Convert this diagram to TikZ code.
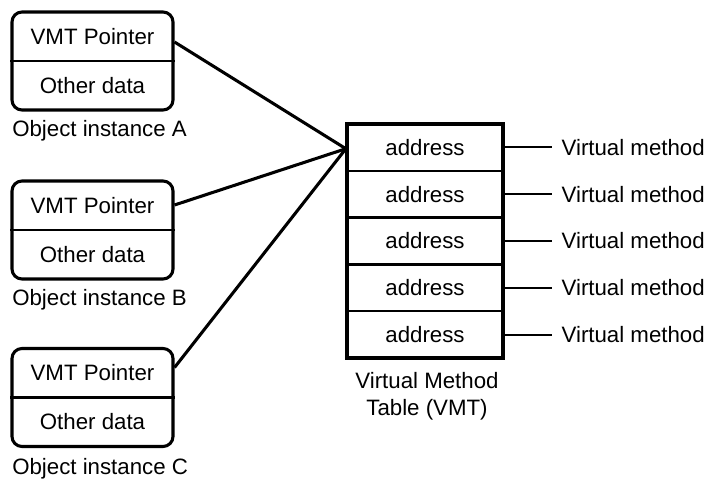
\documentclass[tikz,border=0pt]{standalone}
\usepackage{fontspec}
\setmainfont{Liberation Sans}
\usetikzlibrary{calc,fit}
\begin{document}
\begin{tikzpicture}[x=0.75pt,y=-0.75pt,
  every node/.style={font=\fontsize{16.7}{20}\selectfont},
  objbox/.style={draw,line width=2.3pt,rounded corners=7.5pt,minimum width=120.75pt,minimum height=73.5pt,inner sep=0pt},
  divider/.style={line width=1.7pt},
  cell/.style={inner sep=0pt},
  caption/.style={anchor=west,inner sep=0pt},
  rowbox/.style={draw,line width=1.7pt,minimum width=117pt,minimum height=35.1pt,inner sep=0pt},
  tablebox/.style={draw,line width=2.5pt,inner sep=-0.85pt},
  vmlabel/.style={anchor=west,inner xsep=7pt,inner ysep=0pt},
  pointer/.style={line width=2.3pt},
  methodline/.style={line width=1.6pt}]
\useasboundingbox (0,0) rectangle (721,481);

% Object instances
\foreach \n/\cy/\ly in {A/61/131, B/230/300, C/397.5/469}{
  \node[objbox] (obj\n) at (92.5,\cy) {};
  \draw[divider] (obj\n.west) -- (obj\n.east);
  \node[cell] (ptr\n) at ($(obj\n.center)+(0,-24.5)$) {VMT Pointer};
  \node[cell] (dat\n) at ($(obj\n.center)+(0,24.5)$) {Other data};
  \node[caption] (lab\n) at (12,\ly) {Object instance \n};
}

% VMT rows
\foreach \i/\cy in {1/147.4, 2/194.2, 3/241, 4/287.8, 5/334.6}{
  \node[rowbox] (row\i) at (425,\cy) {address};
  \node[vmlabel] (vm\i) at (552,\cy) {Virtual method};
  \draw[methodline] (row\i.east) -- (vm\i.west);
}
\node[tablebox,fit=(row1)(row5)] (vmt) {};
\node[align=center,inner sep=0pt] (vmtcap) at (427,396) {Virtual Method\\Table (VMT)};

% Pointers
\coordinate (sA) at ([yshift=14.25pt]objA.east);
\coordinate (sB) at ([yshift=18.75pt]objB.east);
\coordinate (sC) at ([yshift=22.5pt]objC.east);
\coordinate (tgt) at ([yshift=-1pt]row1.west);
\draw[pointer] (sA) -- (tgt);
\draw[pointer] (sB) -- (tgt);
\draw[pointer] (sC) -- (tgt);
\end{tikzpicture}
\end{document}
